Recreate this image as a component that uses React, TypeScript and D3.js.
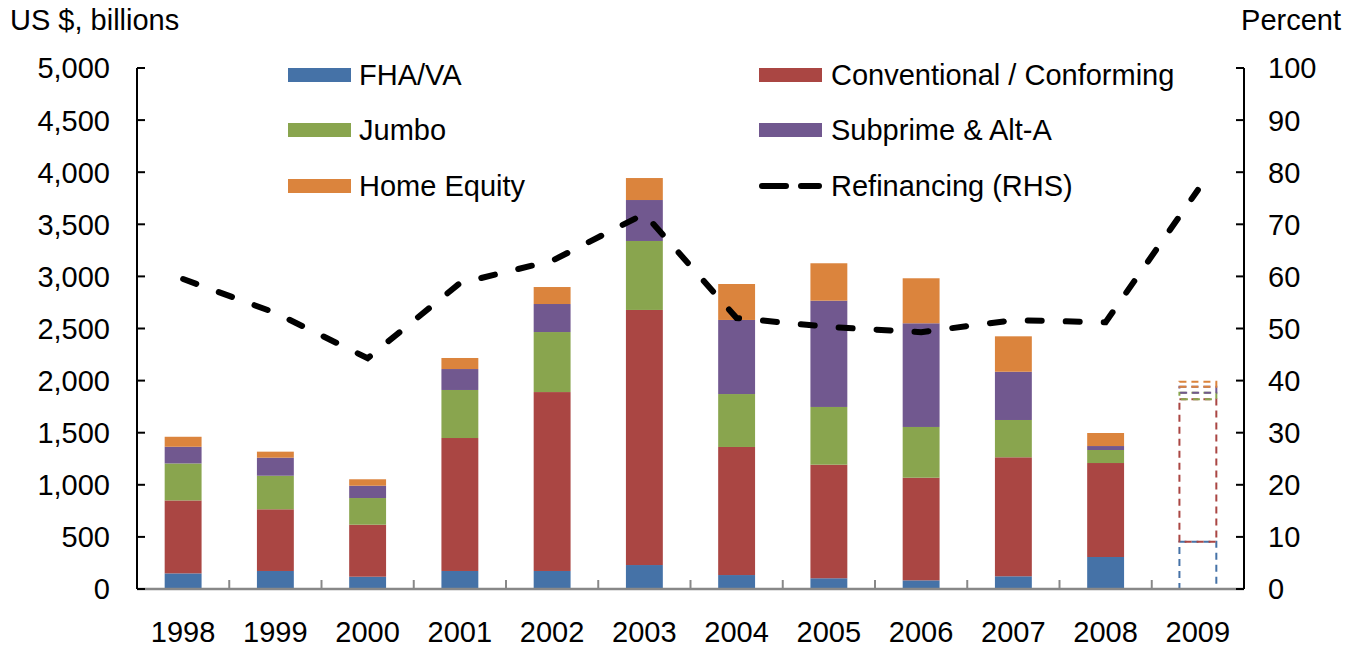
import React from 'react';
import * as d3 from 'd3';

const years = ['1998', '1999', '2000', '2001', '2002', '2003', '2004', '2005', '2006', '2007', '2008', '2009'];
const fhaVa = [150, 173, 118, 173, 173, 230, 134, 103, 83, 122, 307, 454];
const conventional = [700, 592, 499, 1276, 1717, 2448, 1229, 1090, 985, 1142, 902, 1366];
const jumbo = [355, 322, 256, 461, 576, 662, 508, 554, 487, 358, 125, 64];
const subprime = [160, 173, 118, 201, 269, 393, 711, 1020, 995, 463, 38, 57];
const homeEquity = [96, 58, 62, 106, 163, 211, 345, 359, 432, 340, 125, 49];
const refinancing = [59.5, 53, 44.3, 58.7, 63, 72, 52, 50.3, 49.3, 51.6, 51.2, 76.6];
const projected = ['2009'];

const seriesNames = ['FHA/VA', 'Conventional / Conforming', 'Jumbo', 'Subprime & Alt-A', 'Home Equity'];
const seriesColors = ['#4572A7', '#AA4643', '#89A54E', '#71588F', '#DB843D'];
const leftTicks = [0, 500, 1000, 1500, 2000, 2500, 3000, 3500, 4000, 4500, 5000];
const rightTicks = [0, 10, 20, 30, 40, 50, 60, 70, 80, 90, 100];

const W = 1358;
const H = 647;
const margin = { top: 68, right: 114, bottom: 58, left: 137 };
const FONT = '"Liberation Sans", Arial, sans-serif';
const FS = 29;

export default function App() {
  const x = d3.scaleBand().domain(years).range([margin.left, W - margin.right]).paddingInner(0.6).paddingOuter(0.3);
  const xb = d3.scaleBand().domain(years).range([margin.left, W - margin.right]);
  const yL = d3.scaleLinear().domain([0, 5000]).range([H - margin.bottom, margin.top]);
  const yR = d3.scaleLinear().domain([0, 100]).range([H - margin.bottom, margin.top]);

  const rows = years.map((yr, i) => ({
    year: yr,
    v: [fhaVa[i], conventional[i], jumbo[i], subprime[i], homeEquity[i]],
  }));
  const stacked = d3.stack<any>().keys([0, 1, 2, 3, 4] as any).value((d: any, k: any) => d.v[k])(rows as any);

  const line = d3.line<number>()
    .x((_, i) => (xb(years[i]) as number) + xb.bandwidth() / 2)
    .y((d) => yR(d));

  const x0 = margin.left;
  const x1 = W - margin.right;
  const yBase = H - margin.bottom;

  const legend = [
    { name: seriesNames[0], color: seriesColors[0], col: 0, row: 0 },
    { name: seriesNames[1], color: seriesColors[1], col: 1, row: 0 },
    { name: seriesNames[2], color: seriesColors[2], col: 0, row: 1 },
    { name: seriesNames[3], color: seriesColors[3], col: 1, row: 1 },
    { name: seriesNames[4], color: seriesColors[4], col: 0, row: 2 },
  ];
  const legX = [288, 759];
  const legY = [75, 130, 186];

  return (
    <svg width={W} height={H} style={{ position: 'absolute', left: 0, top: 0, background: '#fff' }} fontFamily={FONT}>
      {/* bars */}
      {stacked.map((s: any, k: number) => (
        <g key={k}>
          {s.map((d: any, i: number) => {
            const yr = years[i];
            const isProj = projected.includes(yr);
            const top = yL(d[1]);
            const bot = yL(d[0]);
            return (
              <rect
                key={yr}
                x={x(yr)}
                y={top}
                width={x.bandwidth()}
                height={Math.max(0, bot - top)}
                fill={isProj ? 'none' : seriesColors[k]}
                stroke={isProj ? seriesColors[k] : 'none'}
                strokeWidth={isProj ? 2 : 0}
                strokeDasharray={isProj ? '7,5' : undefined}
              />
            );
          })}
        </g>
      ))}

      {/* x axis */}
      <line x1={x0} x2={x1} y1={yBase} y2={yBase} stroke="#888" strokeWidth={2.5} />
      {years.slice(1).map((yr) => (
        <line key={yr} x1={xb(yr)} x2={xb(yr)} y1={yBase} y2={yBase - 9} stroke="#888" strokeWidth={2} />
      ))}
      {years.map((yr) => (
        <text key={yr} x={(xb(yr) as number) + xb.bandwidth() / 2} y={642} textAnchor="middle" fontSize={FS} fill="#000">
          {yr}
        </text>
      ))}

      {/* left axis */}
      <line x1={x0} x2={x0} y1={margin.top} y2={yBase} stroke="#000" strokeWidth={2} />
      {leftTicks.map((t) => (
        <g key={t}>
          <line x1={x0} x2={x0 + 8} y1={yL(t)} y2={yL(t)} stroke="#000" strokeWidth={2} />
          <text x={110} y={yL(t)} dy="0.36em" textAnchor="end" fontSize={FS} fill="#000">
            {d3.format(',')(t)}
          </text>
        </g>
      ))}

      {/* right axis */}
      <line x1={x1} x2={x1} y1={margin.top} y2={yBase} stroke="#000" strokeWidth={2} />
      {rightTicks.map((t) => (
        <g key={t}>
          <line x1={x1 - 8} x2={x1} y1={yR(t)} y2={yR(t)} stroke="#000" strokeWidth={2} />
          <text x={1268} y={yR(t)} dy="0.36em" textAnchor="start" fontSize={FS} fill="#000">
            {t}
          </text>
        </g>
      ))}

      {/* axis titles */}
      <text x={10} y={30} fontSize={FS} fill="#000">US $, billions</text>
      <text x={1341} y={30} fontSize={FS} textAnchor="end" fill="#000">Percent</text>

      {/* refinancing line */}
      <path d={line(refinancing) as string} fill="none" stroke="#000" strokeWidth={6} strokeLinecap="round" strokeDasharray="14,24" />

      {/* legend */}
      {legend.map((l) => (
        <g key={l.name}>
          <rect x={legX[l.col]} y={legY[l.row] - 7} width={63} height={14} fill={l.color} />
          <text x={legX[l.col] + (l.col === 0 ? 71 : 72)} y={legY[l.row]} dy="0.36em" fontSize={FS} fill="#000">
            {l.name}
          </text>
        </g>
      ))}
      <line x1={legX[1] + 3} x2={legX[1] + 60} y1={legY[2]} y2={legY[2]} stroke="#000" strokeWidth={6} strokeLinecap="round" strokeDasharray="24,15" />
      <text x={legX[1] + 72} y={legY[2]} dy="0.36em" fontSize={FS} fill="#000">Refinancing (RHS)</text>
    </svg>
  );
}
